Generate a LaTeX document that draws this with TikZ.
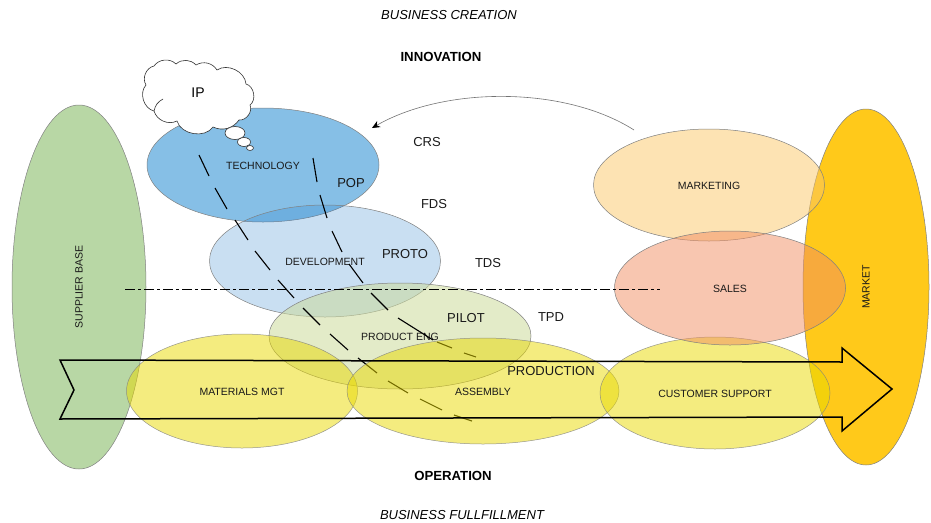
\documentclass[tikz,border=0pt]{standalone}
\usepackage{fontspec}
\setmainfont{Liberation Sans}
\usetikzlibrary{shapes.geometric,arrows.meta}
\definecolor{SupC}{HTML}{B8D7A5}
\definecolor{MarC}{HTML}{FFC91A}
\definecolor{YelC}{HTML}{E9D900}
\definecolor{TecC}{HTML}{86BFE6}
\definecolor{DevC}{HTML}{2880CC}
\definecolor{ProC}{HTML}{CCDA9B}
\definecolor{MktC}{HTML}{FBC767}
\definecolor{SalC}{HTML}{F18D61}
\tikzset{
  base/.style={ellipse,inner sep=0pt,draw=black!50,line width=.5pt,text=black!90,font=\fontsize{10.5}{12}\selectfont,text opacity=1},
  blob/.style={base,text height=8.6pt,text depth=0pt},
  supplier/.style={base,fill=SupC,minimum width=134pt,minimum height=364pt},
  market/.style={base,fill=MarC,minimum width=126pt,minimum height=356pt},
  yel/.style={blob,fill=YelC,fill opacity=.5,draw opacity=.8},
  lab/.style={inner sep=0pt,font=\fontsize{13}{15}\selectfont,text=black!90},
  head/.style={inner sep=0pt,font=\bfseries\fontsize{13.2}{15}\selectfont},
  ital/.style={inner sep=0pt,font=\itshape\fontsize{13}{15}\selectfont},
  route/.style={black,line width=1.1pt},
  puff/.style={ellipse,draw=black!80,fill=white,line width=.6pt,inner sep=0pt},
  lobe/.style={bend left=#1},
}
\begin{document}
\begin{tikzpicture}[x=1pt,y=-1pt]
\useasboundingbox (0,0) rectangle (931,522);
\node[supplier] (sup) at (79,287) {\rotatebox{90}{SUPPLIER BASE}};
\node[market] (mar) at (866,287) {\rotatebox{90}{MARKET}};
\node[blob,fill=TecC,minimum width=232pt,minimum height=114pt] (tec) at (263,165) {TECHNOLOGY};
\node[blob,fill=DevC,fill opacity=.25,minimum width=231pt,minimum height=112pt] (dev) at (325,261) {DEVELOPMENT};
\node[blob,fill=ProC,fill opacity=.55,minimum width=262pt,minimum height=106pt] (pro) at (400,336) {PRODUCT ENG};
% dashed routes
\draw[route] (199,155)--(209,176) (215,188)--(227,209) (235,220)--(248,240) (255,251)--(270,270)
  (278,280)--(294,298) (303,308)--(320,325) (330,334)--(348,350) (358,358)--(377,373)
  (388,381)--(408,393) (420,399)--(442,410) (454,415)--(472,421);
\draw[route] (313,158)--(317,182) (320,195)--(327,218) (332,231)--(342,252) (349,264)--(363,283)
  (371,293)--(388,310) (398,318)--(433,340) (437,342)--(452,348) (464,353)--(476,357);
\node[yel,minimum width=231pt,minimum height=114pt] (mat) at (242,391) {MATERIALS MGT};
\node[yel,minimum width=272pt,minimum height=106pt] (ass) at (483,391) {ASSEMBLY};
\node[yel,minimum width=230pt,minimum height=112pt] (cus) at (715,393) {CUSTOMER SUPPORT};
\node[blob,fill=MktC,fill opacity=.5,minimum width=231pt,minimum height=112pt] (mkt) at (709,185) {MARKETING};
\node[blob,fill=SalC,fill opacity=.5,minimum width=231pt,minimum height=114pt] (sal) at (730,288) {SALES};
% centre line
\coordinate (c1) at (125,289); \coordinate (c2) at (660,289);
\draw[black,line width=.7pt,dash pattern=on 10pt off 3pt on 3pt off 3pt] (c1) -- (c2);
% feedback arrow
\coordinate (f1) at (634,130); \coordinate (f2) at (372,128);
\draw[black!55,line width=.6pt,-{Stealth[length=8pt,width=7pt,black]}] (f1) .. controls (565,86) and (445,86) .. (f2);
% big arrow
\draw[black,line width=1.5pt,line join=miter] (60,360) -- (842,362) -- (842,348) -- (892,389) -- (842,431) -- (842,417) -- (60,419) -- (74,390) -- cycle;
% thought cloud
\draw[black!80,fill=white,line width=.6pt]
  (146,85) to[lobe=55] (154,66) to[lobe=50] (176,64) to[lobe=45] (196,65) to[lobe=45] (217,70)
  to[lobe=60] (246,84) to[lobe=65] (250,105) to[lobe=60] (239,120) to[lobe=40] (213,127)
  to[lobe=65] (177,121) to[lobe=50] (154,111) to[lobe=60] cycle;
\draw[black!80,line width=.6pt] (154,111) to[bend left=25] (163,99);
\node[inner sep=0pt,font=\fontsize{14}{16}\selectfont] (ip) at (198,93) {IP};
\node[puff,minimum width=20pt,minimum height=13pt] (p1) at (235,133) {};
\node[puff,minimum width=13pt,minimum height=9pt] (p2) at (244,142) {};
\node[puff,minimum width=7pt,minimum height=5pt] (p3) at (250,148) {};
% labels
\node[ital] (t1) at (449,15) {BUSINESS CREATION};
\node[head] (t2) at (441,57) {INNOVATION};
\node[head] (t3) at (453,476) {OPERATION};
\node[ital] (t4) at (462,515) {BUSINESS FULLFILLMENT};
\node[lab] (crs) at (427,142) {CRS};
\node[lab] (fds) at (434,204) {FDS};
\node[lab] (tds) at (488,263) {TDS};
\node[lab] (tpd) at (551,317) {TPD};
\node[lab] (pop) at (351,183) {POP};
\node[lab] (proto) at (405,254) {PROTO};
\node[lab] (pilot) at (466,318) {PILOT};
\node[lab] (prod) at (551,371) {PRODUCTION};
\end{tikzpicture}
\end{document}
